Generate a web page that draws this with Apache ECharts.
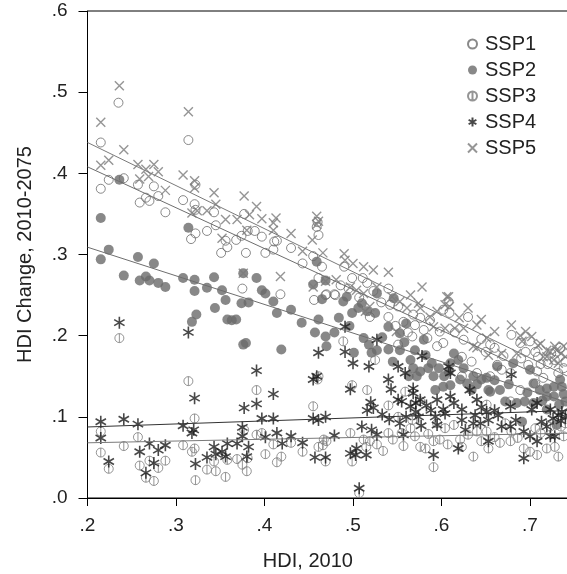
<!DOCTYPE html>
<html><head><meta charset="utf-8">
<script src="https://cdn.jsdelivr.net/npm/echarts@6/dist/echarts.min.js"></script>
<style>html,body{margin:0;padding:0;background:#fff}#c{width:567px;height:574px}</style>
</head><body><div id="c"></div>
<script>
var xTicks = [0.2, 0.3, 0.4, 0.5, 0.6, 0.7];
var yTicks = [0, 0.1, 0.2, 0.3, 0.4, 0.5, 0.6];
var seriesNames = ['SSP1', 'SSP2', 'SSP3', 'SSP4', 'SSP5'];

var ssp1 = [[0.215,0.438],[0.235,0.487],[0.215,0.381],[0.224,0.392],[0.241,0.394],[0.257,0.386],[0.259,0.364],[0.266,0.370],[0.270,0.366],[0.275,0.384],[0.280,0.372],[0.288,0.352],[0.314,0.441],[0.308,0.367],[0.321,0.362],[0.322,0.386],[0.322,0.355],[0.322,0.326],[0.317,0.319],[0.335,0.329],[0.343,0.352],[0.345,0.336],[0.351,0.302],[0.356,0.317],[0.358,0.309],[0.368,0.318],[0.374,0.323],[0.377,0.350],[0.379,0.302],[0.381,0.329],[0.389,0.329],[0.397,0.322],[0.401,0.302],[0.410,0.306],[0.411,0.316],[0.414,0.317],[0.430,0.308],[0.443,0.289],[0.456,0.244],[0.459,0.334],[0.461,0.324],[0.460,0.340],[0.461,0.271],[0.465,0.285],[0.469,0.250],[0.375,0.258],[0.418,0.251],[0.455,0.298],[0.470,0.251],[0.479,0.251],[0.490,0.285],[0.499,0.271],[0.495,0.258],[0.511,0.271],[0.516,0.265],[0.523,0.255],[0.540,0.258],[0.542,0.238],[0.551,0.236],[0.519,0.223],[0.540,0.223],[0.557,0.217],[0.568,0.226],[0.576,0.222],[0.587,0.219],[0.580,0.207],[0.567,0.199],[0.551,0.189],[0.602,0.232],[0.595,0.187],[0.609,0.228],[0.630,0.223],[0.608,0.242],[0.679,0.201],[0.689,0.191],[0.700,0.193],[0.706,0.180],[0.709,0.174],[0.623,0.174],[0.634,0.168],[0.734,0.185],[0.728,0.170],[0.663,0.164],[0.602,0.191],[0.668,0.158],[0.678,0.154],[0.698,0.164],[0.708,0.156],[0.706,0.141],[0.689,0.133],[0.678,0.119],[0.715,0.148],[0.732,0.154],[0.623,0.150],[0.655,0.150],[0.640,0.154],[0.655,0.189],[0.480,0.250],[0.532,0.241],[0.548,0.212],[0.562,0.204],[0.584,0.197],[0.615,0.204],[0.645,0.196],[0.660,0.185],[0.690,0.172],[0.720,0.165],[0.738,0.160],[0.507,0.247],[0.486,0.262],[0.740,0.168],[0.724,0.178],[0.712,0.165],[0.695,0.180],[0.670,0.175],[0.650,0.180],[0.625,0.195],[0.598,0.205],[0.570,0.213]];

var ssp2 = [[0.215,0.345],[0.236,0.392],[0.215,0.294],[0.224,0.306],[0.241,0.274],[0.257,0.297],[0.259,0.268],[0.266,0.273],[0.270,0.268],[0.275,0.289],[0.280,0.265],[0.288,0.260],[0.308,0.271],[0.314,0.333],[0.321,0.269],[0.321,0.255],[0.335,0.259],[0.343,0.272],[0.352,0.256],[0.356,0.244],[0.376,0.277],[0.391,0.271],[0.397,0.256],[0.410,0.242],[0.374,0.240],[0.382,0.241],[0.344,0.234],[0.430,0.232],[0.459,0.291],[0.455,0.263],[0.469,0.268],[0.465,0.245],[0.318,0.217],[0.323,0.226],[0.358,0.220],[0.368,0.220],[0.376,0.189],[0.379,0.191],[0.414,0.228],[0.419,0.183],[0.442,0.216],[0.461,0.220],[0.457,0.204],[0.469,0.199],[0.470,0.187],[0.401,0.252],[0.363,0.219],[0.479,0.204],[0.489,0.242],[0.493,0.248],[0.499,0.228],[0.506,0.234],[0.510,0.240],[0.516,0.230],[0.525,0.228],[0.501,0.179],[0.512,0.197],[0.518,0.189],[0.521,0.179],[0.527,0.182],[0.540,0.183],[0.540,0.211],[0.553,0.203],[0.553,0.182],[0.565,0.170],[0.570,0.182],[0.568,0.160],[0.576,0.156],[0.572,0.150],[0.563,0.150],[0.589,0.166],[0.591,0.150],[0.593,0.133],[0.602,0.137],[0.608,0.156],[0.614,0.178],[0.619,0.170],[0.625,0.160],[0.629,0.141],[0.636,0.150],[0.645,0.146],[0.653,0.133],[0.666,0.133],[0.663,0.162],[0.681,0.166],[0.700,0.158],[0.719,0.125],[0.727,0.137],[0.734,0.146],[0.704,0.141],[0.711,0.133],[0.527,0.252],[0.546,0.246],[0.610,0.166],[0.621,0.146],[0.651,0.148],[0.610,0.139],[0.634,0.133],[0.655,0.131],[0.672,0.119],[0.685,0.117],[0.694,0.119],[0.691,0.094],[0.719,0.135],[0.727,0.125],[0.736,0.137],[0.740,0.119],[0.719,0.109],[0.730,0.090],[0.704,0.117],[0.484,0.222],[0.496,0.212],[0.533,0.198],[0.545,0.168],[0.558,0.192],[0.582,0.176],[0.597,0.160],[0.738,0.128],[0.733,0.115],[0.714,0.120],[0.697,0.130],[0.676,0.140],[0.660,0.145],[0.640,0.140],[0.603,0.150],[0.585,0.160],[0.580,0.195],[0.560,0.215]];

var ssp3 = [[0.236,0.197],[0.215,0.082],[0.215,0.056],[0.224,0.036],[0.241,0.064],[0.257,0.075],[0.259,0.040],[0.266,0.025],[0.270,0.046],[0.275,0.021],[0.280,0.037],[0.288,0.046],[0.308,0.065],[0.314,0.144],[0.321,0.098],[0.321,0.061],[0.318,0.057],[0.322,0.022],[0.335,0.035],[0.345,0.033],[0.343,0.045],[0.356,0.026],[0.358,0.047],[0.369,0.048],[0.375,0.041],[0.377,0.084],[0.380,0.033],[0.381,0.049],[0.391,0.133],[0.391,0.078],[0.397,0.080],[0.401,0.054],[0.410,0.066],[0.414,0.044],[0.419,0.051],[0.430,0.068],[0.443,0.057],[0.455,0.113],[0.460,0.146],[0.461,0.150],[0.461,0.063],[0.466,0.065],[0.470,0.070],[0.469,0.045],[0.489,0.193],[0.525,0.170],[0.499,0.139],[0.516,0.133],[0.559,0.131],[0.540,0.114],[0.551,0.100],[0.567,0.096],[0.576,0.119],[0.595,0.092],[0.497,0.080],[0.540,0.080],[0.555,0.080],[0.565,0.086],[0.512,0.072],[0.519,0.070],[0.527,0.066],[0.515,0.063],[0.557,0.064],[0.570,0.076],[0.576,0.063],[0.582,0.061],[0.591,0.070],[0.499,0.045],[0.591,0.038],[0.507,0.006],[0.598,0.072],[0.604,0.086],[0.614,0.090],[0.621,0.072],[0.623,0.063],[0.636,0.051],[0.640,0.082],[0.651,0.082],[0.653,0.061],[0.666,0.068],[0.678,0.070],[0.693,0.061],[0.700,0.057],[0.708,0.053],[0.672,0.092],[0.679,0.082],[0.706,0.086],[0.719,0.061],[0.728,0.063],[0.732,0.051],[0.723,0.088],[0.738,0.076],[0.651,0.115],[0.467,0.072],[0.735,0.088],[0.740,0.092],[0.712,0.080],[0.686,0.074],[0.660,0.075],[0.645,0.070],[0.630,0.078],[0.607,0.066],[0.585,0.079],[0.545,0.072],[0.534,0.058]];

var ssp4 = [[0.236,0.216],[0.215,0.094],[0.215,0.074],[0.241,0.097],[0.257,0.091],[0.224,0.045],[0.259,0.057],[0.270,0.067],[0.275,0.043],[0.266,0.031],[0.280,0.059],[0.288,0.065],[0.308,0.089],[0.314,0.204],[0.321,0.123],[0.320,0.084],[0.318,0.080],[0.322,0.042],[0.335,0.050],[0.343,0.063],[0.345,0.054],[0.352,0.057],[0.356,0.051],[0.358,0.067],[0.369,0.067],[0.375,0.087],[0.377,0.111],[0.375,0.076],[0.382,0.063],[0.380,0.051],[0.391,0.157],[0.391,0.116],[0.397,0.098],[0.401,0.075],[0.410,0.128],[0.410,0.098],[0.414,0.080],[0.420,0.067],[0.430,0.076],[0.443,0.068],[0.455,0.146],[0.459,0.150],[0.461,0.179],[0.461,0.096],[0.469,0.100],[0.457,0.050],[0.469,0.050],[0.491,0.180],[0.500,0.166],[0.518,0.162],[0.551,0.162],[0.559,0.154],[0.540,0.146],[0.543,0.134],[0.497,0.134],[0.568,0.135],[0.568,0.129],[0.520,0.118],[0.516,0.108],[0.523,0.111],[0.551,0.121],[0.555,0.119],[0.565,0.113],[0.571,0.117],[0.576,0.121],[0.571,0.106],[0.574,0.100],[0.595,0.121],[0.541,0.097],[0.553,0.092],[0.577,0.089],[0.593,0.100],[0.595,0.090],[0.604,0.104],[0.510,0.088],[0.521,0.084],[0.527,0.078],[0.479,0.077],[0.557,0.078],[0.504,0.061],[0.497,0.055],[0.503,0.053],[0.515,0.053],[0.591,0.053],[0.507,0.012],[0.608,0.162],[0.610,0.154],[0.632,0.133],[0.640,0.121],[0.679,0.152],[0.610,0.125],[0.614,0.117],[0.602,0.109],[0.623,0.109],[0.638,0.102],[0.651,0.106],[0.653,0.096],[0.664,0.102],[0.678,0.113],[0.708,0.117],[0.702,0.109],[0.723,0.109],[0.732,0.102],[0.736,0.106],[0.623,0.096],[0.636,0.092],[0.644,0.092],[0.668,0.088],[0.678,0.088],[0.627,0.084],[0.693,0.082],[0.700,0.076],[0.708,0.070],[0.719,0.088],[0.723,0.076],[0.728,0.076],[0.653,0.070],[0.619,0.061],[0.693,0.049],[0.491,0.211],[0.527,0.195],[0.578,0.175],[0.455,0.098],[0.735,0.095],[0.740,0.100],[0.726,0.098],[0.713,0.094],[0.684,0.096],[0.660,0.108],[0.645,0.112],[0.588,0.108],[0.583,0.114],[0.560,0.100],[0.533,0.103]];

var ssp5 = [[0.215,0.463],[0.236,0.508],[0.215,0.410],[0.224,0.416],[0.241,0.429],[0.257,0.411],[0.259,0.393],[0.266,0.405],[0.269,0.396],[0.275,0.411],[0.280,0.402],[0.288,0.379],[0.308,0.398],[0.314,0.476],[0.321,0.391],[0.321,0.382],[0.318,0.351],[0.324,0.354],[0.335,0.354],[0.343,0.376],[0.345,0.362],[0.352,0.320],[0.356,0.343],[0.369,0.343],[0.377,0.372],[0.380,0.330],[0.391,0.359],[0.397,0.344],[0.410,0.339],[0.413,0.345],[0.410,0.330],[0.430,0.326],[0.443,0.304],[0.454,0.318],[0.459,0.347],[0.459,0.337],[0.376,0.277],[0.418,0.273],[0.455,0.260],[0.469,0.267],[0.383,0.349],[0.461,0.341],[0.466,0.302],[0.481,0.269],[0.490,0.301],[0.491,0.293],[0.500,0.289],[0.512,0.285],[0.523,0.281],[0.540,0.278],[0.497,0.260],[0.504,0.256],[0.512,0.252],[0.527,0.260],[0.578,0.260],[0.544,0.248],[0.553,0.242],[0.561,0.234],[0.574,0.240],[0.576,0.234],[0.519,0.236],[0.514,0.230],[0.549,0.205],[0.587,0.223],[0.591,0.211],[0.604,0.238],[0.606,0.248],[0.608,0.248],[0.630,0.234],[0.679,0.213],[0.702,0.199],[0.640,0.213],[0.651,0.197],[0.668,0.178],[0.691,0.193],[0.719,0.182],[0.730,0.182],[0.738,0.187],[0.609,0.236],[0.689,0.200],[0.709,0.188],[0.728,0.187],[0.615,0.209],[0.625,0.209],[0.604,0.209],[0.636,0.187],[0.719,0.174],[0.727,0.170],[0.740,0.174],[0.640,0.185],[0.653,0.176],[0.685,0.178],[0.715,0.174],[0.723,0.180],[0.732,0.166],[0.735,0.178],[0.712,0.190],[0.695,0.205],[0.660,0.205],[0.645,0.220],[0.620,0.222],[0.595,0.230],[0.565,0.250]];

// fitted lines (start/end points)
var fit1 = [[0.2,0.408],[0.75,0.131]];
var fit2 = [[0.2,0.309],[0.75,0.115]];
var fit3 = [[0.2,0.068],[0.75,0.080]];
var fit4 = [[0.2,0.0875],[0.75,0.108]];
var fit5 = [[0.2,0.438],[0.75,0.146]];

var FONT = 'Liberation Sans, Arial, Helvetica, sans-serif';
var circ = 'path://M0,-5C2.76,-5,5,-2.76,5,0C5,2.76,2.76,5,0,5C-2.76,5,-5,2.76,-5,0C-5,-2.76,-2.76,-5,0,-5Z';
var circBar = circ + 'M0,-5L0,5';
var aster = 'path://M0,-5L0,5M-4.33,-2.5L4.33,2.5M-4.33,2.5L4.33,-2.5';
var cross = 'path://M-5,-5L5,5M-5,5L5,-5';

function fmt(v){ var s = v.toFixed(1); return s.replace(/^0/, ''); }

var chart = echarts.init(document.getElementById('c'), null, {renderer:'canvas'});
function sc(name, data, symbol, size, style){
  return {name:name, type:'scatter', data:data, symbol:symbol, symbolSize:size,
    symbolKeepAspect:true, itemStyle:style, animation:false, z:2};
}
function ln(name, data, color){
  return {name:name, type:'line', data:data, showSymbol:false, symbol:'none',
    lineStyle:{color:color, width:1}, animation:false, z:3, silent:true};
}
chart.setOption({
  backgroundColor:'#fff',
  animation:false,
  grid:{left:87.5, top:11, width:486.75, height:487, show:true, borderColor:'#000', borderWidth:1,
    containLabel:false, outerBoundsMode:'none'},
  legend:{
    data:seriesNames, orient:'vertical', left:462, top:29, itemWidth:15, itemHeight:9, itemGap:6,
    textStyle:{fontFamily:FONT, fontSize:20, color:'#222'}
  },
  xAxis:{
    type:'value', min:0.2, max:0.75, interval:0.1,
    name:'HDI, 2010', nameLocation:'middle', nameGap:53,
    nameTextStyle:{fontFamily:FONT, fontSize:20, color:'#222', padding:[0,46,0,0]},
    axisLine:{show:true, lineStyle:{color:'#000', width:1}},
    axisTick:{show:true, length:8, lineStyle:{color:'#000'}},
    axisLabel:{fontFamily:FONT, fontSize:19, color:'#222', margin:18,
      formatter:function(v){ return xTicks.some(function(t){return Math.abs(t-v)<1e-9;}) ? fmt(v) : ''; }},
    splitLine:{show:false}
  },
  yAxis:{
    type:'value', min:0, max:0.6, interval:0.1,
    name:'HDI Change, 2010-2075', nameLocation:'middle', nameGap:52,
    nameTextStyle:{fontFamily:FONT, fontSize:20, color:'#222'},
    axisLine:{show:true, lineStyle:{color:'#000', width:1}},
    axisTick:{show:true, length:9, lineStyle:{color:'#000'}},
    axisLabel:{fontFamily:FONT, fontSize:19, color:'#222', margin:20,
      formatter:function(v){ return yTicks.some(function(t){return Math.abs(t-v)<1e-9;}) ? fmt(v) : ''; }},
    splitLine:{show:false}
  },
  series:[
    sc('SSP1', ssp1, circ, 9, {color:'rgba(0,0,0,0)', borderColor:'#6c6c6c', borderWidth:1}),
    sc('SSP2', ssp2, 'circle', 10, {color:'#6a6a6a', borderWidth:0}),
    sc('SSP3', ssp3, circBar, 9, {color:'rgba(0,0,0,0)', borderColor:'#7a7a7a', borderWidth:1}),
    sc('SSP4', ssp4, aster, 12, {color:'rgba(0,0,0,0)', borderColor:'#1a1a1a', borderWidth:1.6}),
    sc('SSP5', ssp5, cross, 9, {color:'rgba(0,0,0,0)', borderColor:'#7a7a7a', borderWidth:1.4}),
    ln('fit1', fit1, '#6e6e6e'),
    ln('fit2', fit2, '#6e6e6e'),
    ln('fit3', fit3, '#7a7a7a'),
    ln('fit4', fit4, '#333333'),
    ln('fit5', fit5, '#7a7a7a')
  ]
});
</script></body></html>
